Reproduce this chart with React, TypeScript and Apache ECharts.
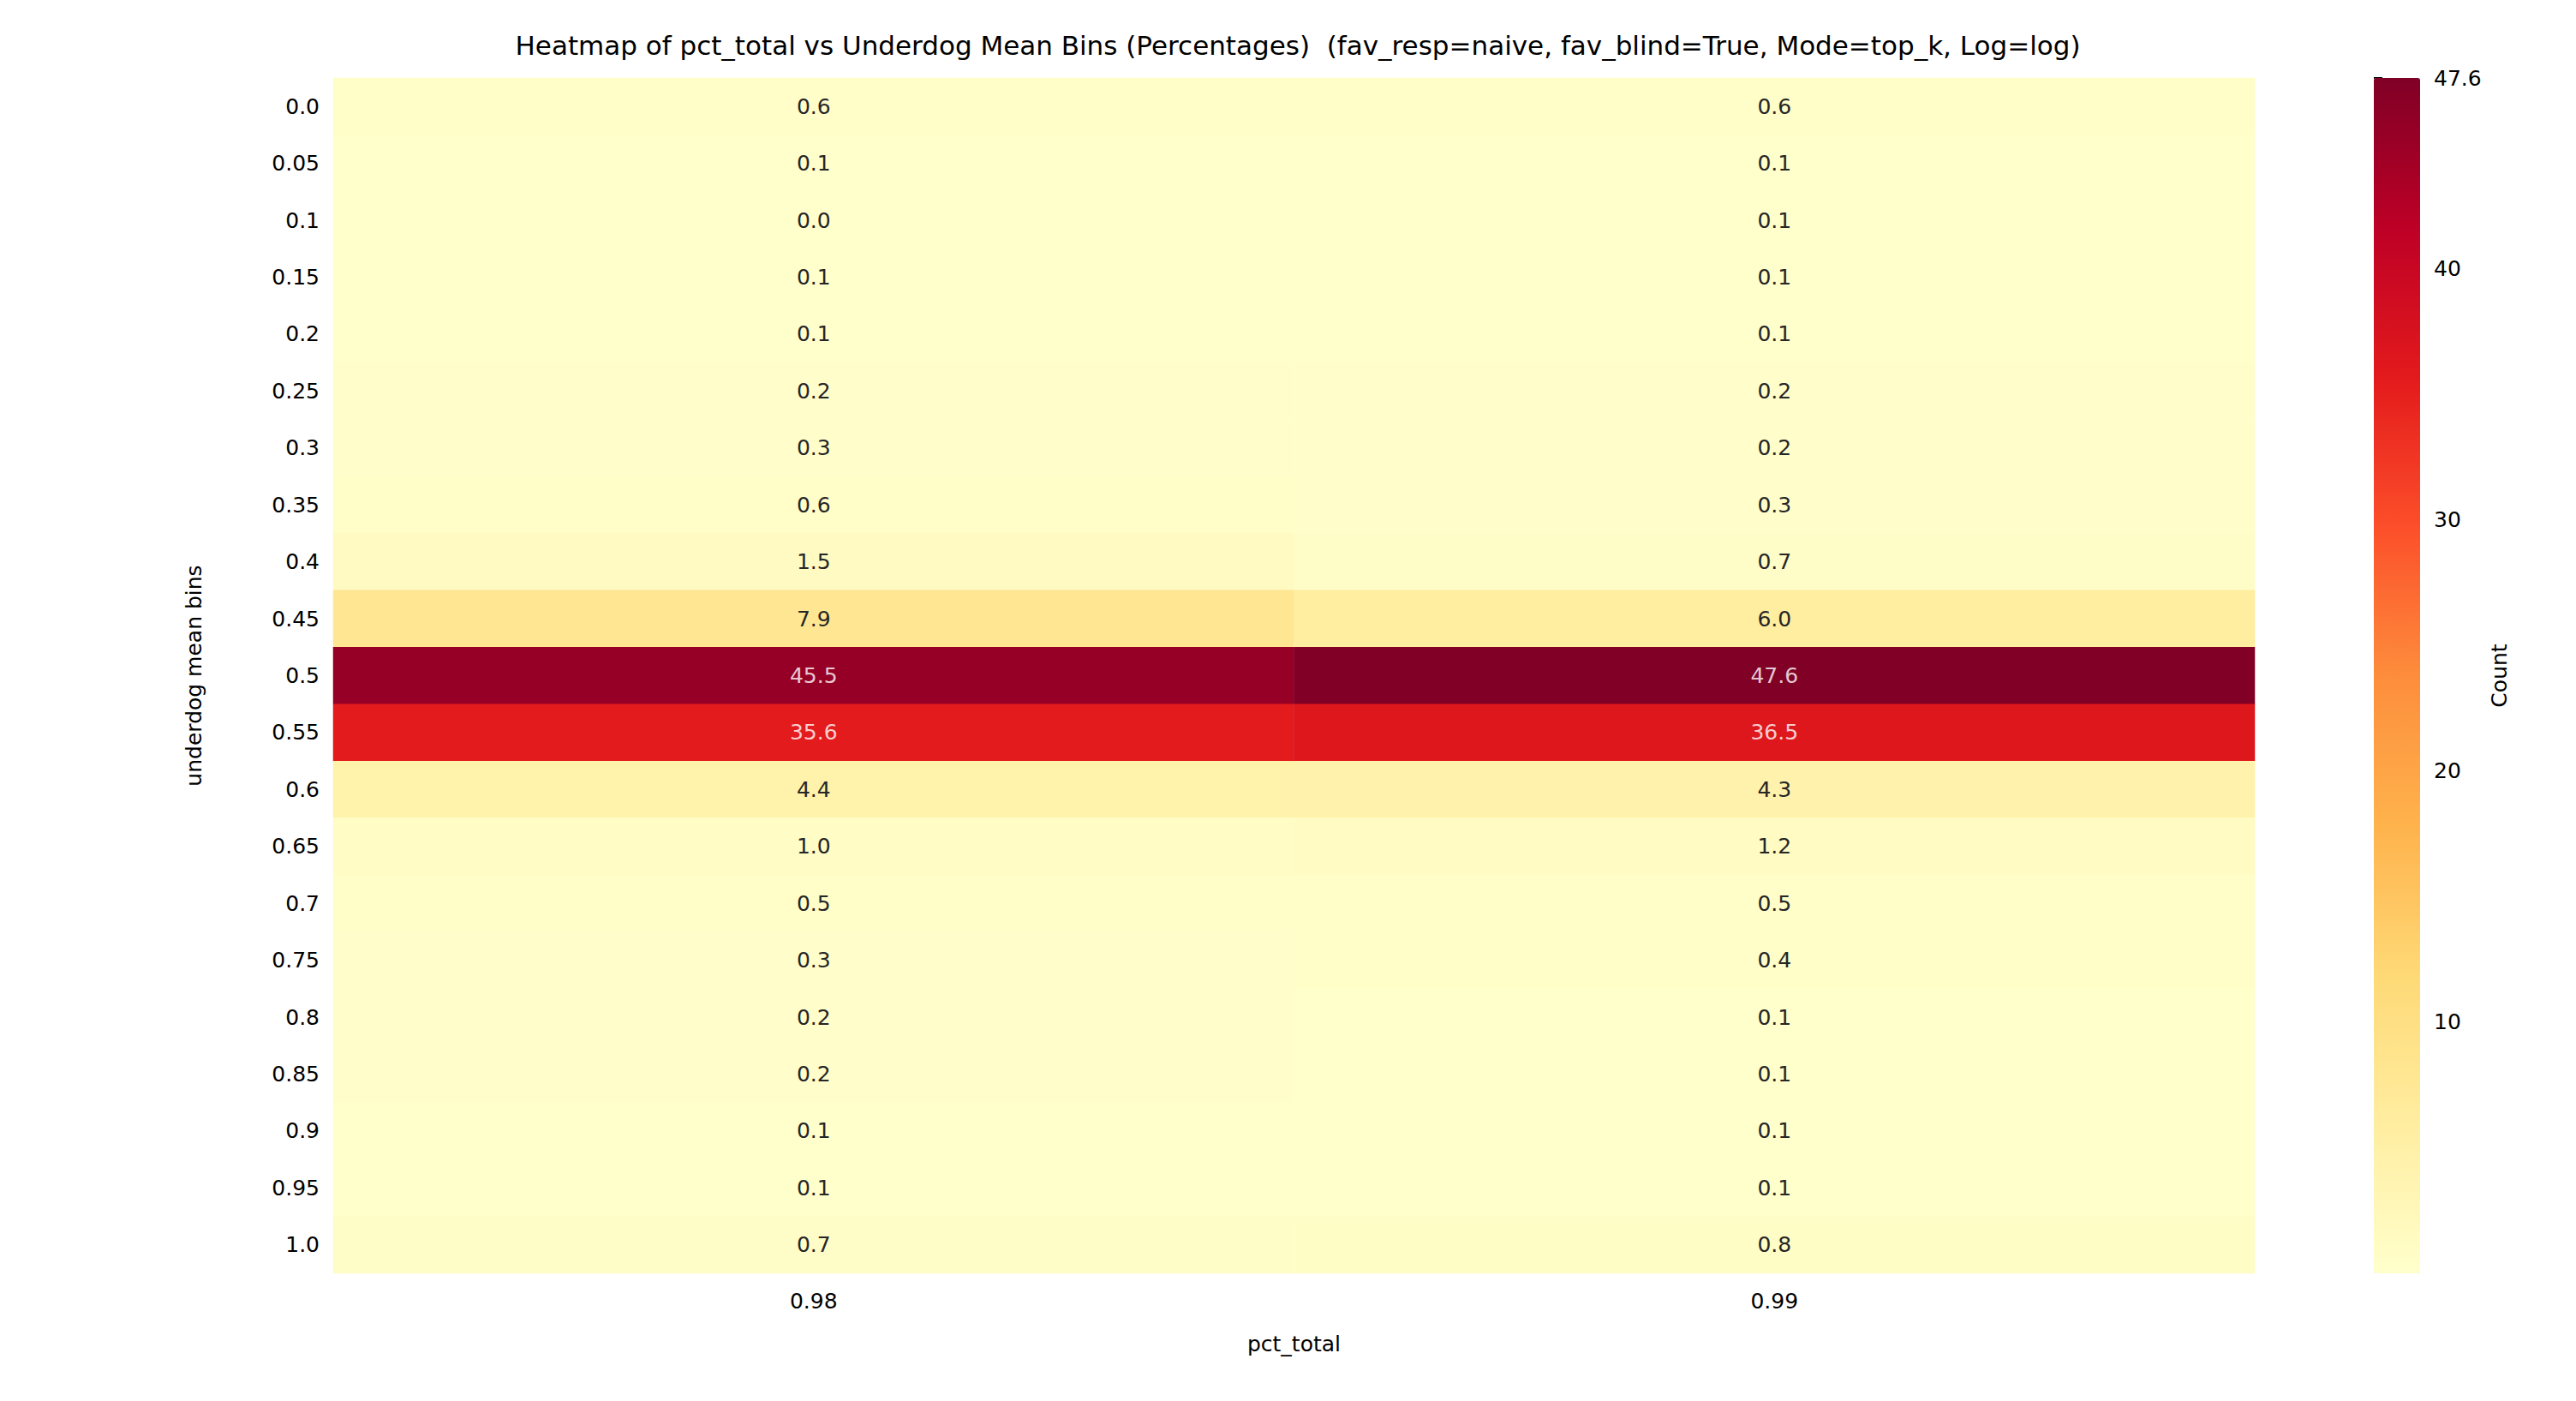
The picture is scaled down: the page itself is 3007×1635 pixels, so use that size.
import { useEffect, useRef } from 'react';
import * as echarts from 'echarts';

const rows = ['0.0', '0.05', '0.1', '0.15', '0.2', '0.25', '0.3', '0.35', '0.4', '0.45', '0.5', '0.55', '0.6', '0.65', '0.7', '0.75', '0.8', '0.85', '0.9', '0.95', '1.0'];
const cols = ['0.98', '0.99'];
const col098 = [0.6, 0.1, 0.0, 0.1, 0.1, 0.2, 0.3, 0.6, 1.5, 7.9, 45.5, 35.6, 4.4, 1.0, 0.5, 0.3, 0.2, 0.2, 0.1, 0.1, 0.7];
const col099 = [0.6, 0.1, 0.1, 0.1, 0.1, 0.2, 0.2, 0.3, 0.7, 6.0, 47.6, 36.5, 4.3, 1.2, 0.5, 0.4, 0.1, 0.1, 0.1, 0.1, 0.8];
const ylorrd = ['#ffffcc', '#ffeda0', '#fed976', '#feb24c', '#fd8d3c', '#fc4e2a', '#e31a1c', '#bd0026', '#800026'];

export default function App() {
  const ref = useRef<HTMLDivElement>(null);

  useEffect(() => {
    document.body.style.margin = '0';
    const chart = echarts.init(ref.current!, null, { renderer: 'svg' });
    const cells: number[][] = [];
    [col098, col099].forEach((vals, ci) => vals.forEach((v, ri) => cells.push([ci, ri, v])));
    const vmin = 0;
    const vmax = 47.6;
    const font = 'DejaVu Sans';

    chart.setOption({
      animation: false,
      backgroundColor: '#fff',
      textStyle: { fontFamily: font },
      title: {
        text: 'Heatmap of pct_total vs Underdog Mean Bins (Percentages)  (fav_resp=naive, fav_blind=True, Mode=top_k, Log=log)',
        left: 1510, top: 32, textAlign: 'center',
        textStyle: { fontSize: 31, fontWeight: 'normal', color: '#000', fontFamily: font },
      },
      grid: [
        { left: 389, top: 91, width: 2243, height: 1395 },
        { left: 2771, top: 91, width: 54, height: 1395 },
      ],
      xAxis: [
        {
          type: 'category', data: cols, gridIndex: 0,
          name: 'pct_total', nameLocation: 'middle', nameGap: 70,
          nameTextStyle: { fontSize: 25, color: '#000' },
          axisLine: { show: false },
          axisTick: { alignWithLabel: true, length: 10, lineStyle: { color: '#000', width: 2 } },
          axisLabel: { fontSize: 25, color: '#000', margin: 20 },
        },
        { type: 'value', gridIndex: 1, show: false },
      ],
      yAxis: [
        {
          type: 'category', data: rows, gridIndex: 0, inverse: true,
          name: 'underdog mean bins', nameLocation: 'middle', nameGap: 150, nameRotate: 90,
          nameTextStyle: { fontSize: 25, color: '#000' },
          axisLine: { show: false },
          axisTick: { alignWithLabel: true, length: 10, lineStyle: { color: '#000', width: 2 } },
          axisLabel: { fontSize: 25, color: '#000', margin: 16 },
        },
        {
          type: 'value', gridIndex: 1, position: 'right', min: vmin, max: vmax, interval: 10,
          name: 'Count', nameLocation: 'middle', nameGap: 80, nameRotate: 90,
          nameTextStyle: { fontSize: 25, color: '#000' },
          splitLine: { show: false },
          axisLine: { show: false },
          axisTick: { show: true, length: 10, lineStyle: { color: '#000', width: 2 } },
          axisLabel: { fontSize: 25, color: '#000', margin: 16, showMinLabel: false },
        },
      ],
      visualMap: {
        type: 'continuous', min: vmin, max: vmax, seriesIndex: 0,
        calculable: false, text: ['', ''], showLabel: false, padding: 0,
        left: 2771, top: 91, itemWidth: 54, itemHeight: 1395,
        inRange: { color: ylorrd },
      },
      series: [
        {
          type: 'heatmap', xAxisIndex: 0, yAxisIndex: 0, data: cells,
          label: {
            show: true, fontSize: 25,
            formatter: (p: any) => p.value[2].toFixed(1),
            color: '#262626',
            rich: {},
          },
          labelLayout: {},
          itemStyle: { borderWidth: 0 },
          emphasis: { disabled: true },
        },
        {
          type: 'scatter', xAxisIndex: 0, yAxisIndex: 0, symbolSize: 0, silent: true,
          data: cells.filter((c) => c[2] > 30),
          label: {
            show: true, position: 'inside', fontSize: 25, color: '#fff',
            formatter: (p: any) => p.value[2].toFixed(1),
          },
          z: 5,
        },
      ],
    });
    // hide dark labels under white ones by redrawing heatmap labels conditionally
    chart.setOption({
      series: [{
        data: cells.map((c) => ({ value: c, label: { show: c[2] <= 30 } })),
      }],
    });
    return () => chart.dispose();
  }, []);

  return <div ref={ref} style={{ width: 3007, height: 1635 }} />;
}
